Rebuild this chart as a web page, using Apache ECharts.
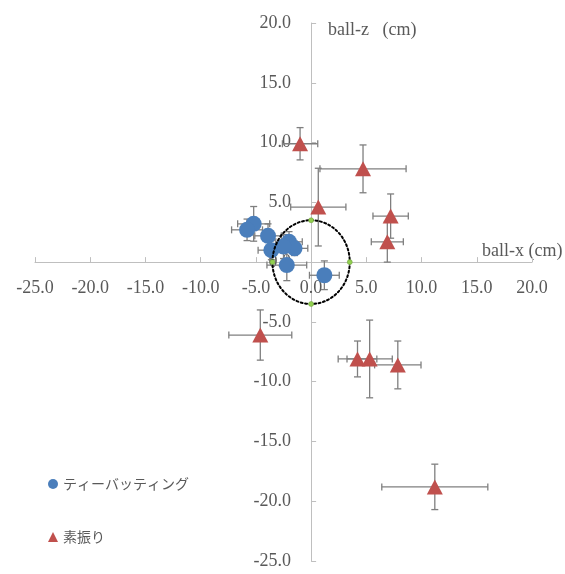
<!DOCTYPE html>
<html>
<head>
<meta charset="utf-8">
<script src="https://cdn.jsdelivr.net/npm/echarts@6/dist/echarts.min.js"></script>
<style>
html,body{margin:0;padding:0;background:#fff;}
#chart{width:565px;height:574px;}
</style>
</head>
<body>
<div id="chart"></div>
<script>
// ---- data (cm) ----
const teeName = 'ティーバッティング';
const teeX    = [-5.2, -5.8, -3.9, -2.0, -1.5, -3.6, -2.2, -2.5, 1.2];
const teeY    = [ 3.2,  2.7,  2.2,  1.7,  1.15, 1.0, -0.25, 1.3, -1.1];
const teeXErr = [ 1.45, 1.4,  1.2,  1.2,  1.2,  1.2,  1.8,  1.0, 1.35];
const teeYErr = [ 1.45, 0.9,  1.0,  0.85, 0.6,  0.8,  1.3,  1.0, 1.2];

const swingName = '素振り';
const swingX    = [-1.0, 4.7, 0.65, 7.2, 6.9, -4.6, 4.2, 5.3, 7.85, 11.2];
const swingY    = [ 9.9, 7.8, 4.6,  3.85, 1.7, -6.1, -8.1, -8.1, -8.6, -18.8];
const swingXErr = [ 1.6, 3.9, 2.5,  1.6, 1.45, 2.85, 1.75, 2.05, 2.1, 4.8];
const swingYErr = [ 1.35, 2.0, 3.25, 1.85, 1.7, 2.1, 1.5, 3.25, 2.0, 1.9];

const refCircleRadius = 3.5;
const refPointsX = [0, 3.5, 0, -3.5];
const refPointsY = [3.5, 0, -3.5, 0];

const axisMin = -25, axisMax = 20, axisStep = 5;
const xAxisTitle = 'ball-x (cm)';
const yAxisTitle = 'ball-z   (cm)';

// ---- layout ----
const W = 565, H = 574;
const gridL = 35, gridR = 33, gridT = 23, gridB = 13;
const plotW = W - gridL - gridR, plotH = H - gridT - gridB;
const zeroFrac = (0 - axisMin) / (axisMax - axisMin);

// ---- build ----
const zip = (a, b) => a.map((v, i) => [v, b[i]]);
const zip4 = (a, b, c, d) => a.map((v, i) => [v, b[i], c[i], d[i]]);

function errRender(params, api) {
  const x = api.value(0), y = api.value(1), ex = api.value(2), ey = api.value(3);
  const l = api.coord([x - ex, y]), r = api.coord([x + ex, y]);
  const t = api.coord([x, y + ey]), b = api.coord([x, y - ey]);
  const cap = 3.5;
  const st = { stroke: '#7f7f7f', lineWidth: 1.3 };
  const ln = (x1, y1, x2, y2) => ({ type: 'line', shape: { x1, y1, x2, y2 }, style: st });
  return {
    type: 'group',
    children: [
      ln(l[0], l[1], r[0], r[1]),
      ln(t[0], t[1], b[0], b[1]),
      ln(l[0], l[1] - cap, l[0], l[1] + cap),
      ln(r[0], r[1] - cap, r[0], r[1] + cap),
      ln(t[0] - cap, t[1], t[0] + cap, t[1]),
      ln(b[0] - cap, b[1], b[0] + cap, b[1])
    ]
  };
}

const labelFont = { fontFamily: '"Liberation Serif", "Times New Roman", serif', fontSize: 18, color: '#595959' };
const axisCommon = {
  type: 'value', min: axisMin, max: axisMax, interval: axisStep,
  splitLine: { show: false },
  axisLine: { onZero: false, lineStyle: { color: '#bfbfbf', width: 1 } },
  axisTick: { show: true, inside: true, length: 5, lineStyle: { color: '#bfbfbf' } },
};

const chart = echarts.init(document.getElementById('chart'), null, { renderer: 'canvas' });
chart.setOption({
  animation: false,
  backgroundColor: '#ffffff',
  grid: { left: gridL, right: gridR, top: gridT, bottom: gridB, containLabel: false, outerBoundsMode: 'none' },
  xAxis: Object.assign({}, axisCommon, {
    position: 'bottom', offset: -zeroFrac * plotH,
    axisLabel: Object.assign({ margin: 17, formatter: v => v.toFixed(1) }, labelFont)
  }),
  yAxis: Object.assign({}, axisCommon, {
    position: 'left', offset: -zeroFrac * plotW,
    axisLabel: Object.assign({ margin: 20, formatter: v => v.toFixed(1) }, labelFont)
  }),
  legend: {
    orient: 'vertical', left: 43, top: 472, itemGap: 39,
    itemWidth: 10, itemHeight: 10,
    data: [teeName, swingName],
    textStyle: { fontFamily: '"Noto Sans CJK JP", sans-serif', fontSize: 14, color: '#595959' }
  },
  graphic: [
    { type: 'text', left: 328, top: 21, style: { text: yAxisTitle, font: '18px "Liberation Serif", serif', fill: '#595959' } },
    { type: 'text', left: 482, top: 242, style: { text: xAxisTitle, font: '18px "Liberation Serif", serif', fill: '#595959' } }
  ],
  series: [
    { type: 'custom', name: teeName + '_err', renderItem: errRender, data: zip4(teeX, teeY, teeXErr, teeYErr), z: 2, silent: true, encode: { x: 0, y: 1 } },
    { type: 'custom', name: swingName + '_err', renderItem: errRender, data: zip4(swingX, swingY, swingXErr, swingYErr), z: 2, silent: true, encode: { x: 0, y: 1 } },
    { type: 'scatter', name: teeName, data: zip(teeX, teeY), symbol: 'circle', symbolSize: 16, itemStyle: { color: '#4a7ebb', opacity: 1 }, z: 3 },
    { type: 'scatter', name: swingName, data: zip(swingX, swingY), symbol: 'triangle', symbolSize: [16, 15], itemStyle: { color: '#c0504d', opacity: 1 }, z: 3 },
    { type: 'custom', name: 'ref', data: [[0, 0, refCircleRadius]], z: 4, silent: true,
      renderItem: (params, api) => {
        const c = api.coord([api.value(0), api.value(1)]);
        const s = api.size([api.value(2), api.value(2)]);
        return { type: 'ellipse', shape: { cx: c[0], cy: c[1], rx: s[0], ry: s[1] },
                 style: { fill: 'none', stroke: '#000000', lineWidth: 2, lineDash: [2, 2.5], lineCap: 'round' } };
      } },
    { type: 'scatter', name: 'refPts', data: zip(refPointsX, refPointsY), symbol: 'circle', symbolSize: 5, z: 5, silent: true,
      itemStyle: { color: '#92d050', borderColor: '#6a9a3a', borderWidth: 0.5, opacity: 1 } }
  ]
});
</script>
</body>
</html>
